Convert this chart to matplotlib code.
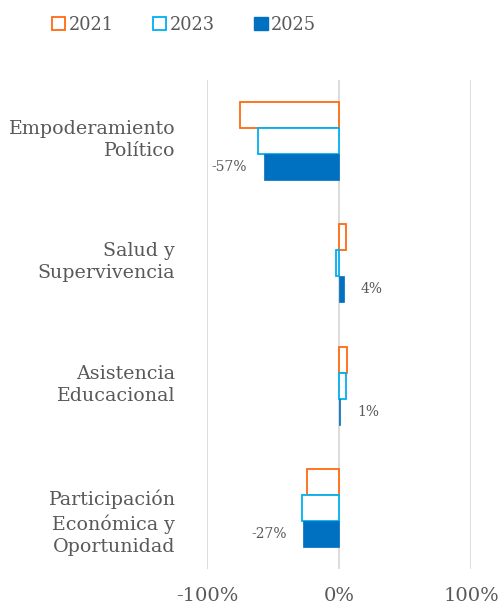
import matplotlib.pyplot as plt
from matplotlib.patches import Patch
from matplotlib.transforms import offset_copy
import numpy as np

# categories top to bottom
categories = ["Empoderamiento\nPolítico",
              "Salud y\nSupervivencia",
              "Asistencia\nEducacional",
              "Participación\nEconómica y\nOportunidad"]
years = ["2021", "2023", "2025"]
vals_2021 = [-0.75, 0.05, 0.06, -0.24]
vals_2023 = [-0.61, -0.02, 0.05, -0.28]
vals_2025 = [-0.57, 0.04, 0.01, -0.27]
labels_2025 = ["-57%", "4%", "1%", "-27%"]
xticks = [-1, 0, 1]
xtick_labels = ["-100%", "0%", "100%"]

orange = "#FF6A10"
light_blue = "#00B0F0"
dark_blue = "#0070C0"
grey_txt = "#595959"

plt.rcParams['font.family'] = ['DejaVu Serif']

fig = plt.figure(figsize=(5.02, 6.07), dpi=100)
ax = fig.add_axes([207/502, 1 - 569/607, 264/502, 489/607])

y = np.arange(len(categories))
h = 0.213

ax.barh(y - h, vals_2021, height=h, facecolor="white", edgecolor=orange, linewidth=1.3, zorder=3)
ax.barh(y, vals_2023, height=h, facecolor="white", edgecolor=light_blue, linewidth=1.3, zorder=3)
bars25 = ax.barh(y + h, vals_2025, height=h, color=dark_blue, edgecolor=dark_blue, linewidth=0.5, zorder=3)

for b, v, lab in zip(bars25, vals_2025, labels_2025):
    yc = b.get_y() + b.get_height() / 2
    off = 12 if v >= 0 else -12
    ax.annotate(lab, (v, yc), xytext=(off, 0), textcoords="offset points",
                ha="left" if v >= 0 else "right", va="center",
                fontsize=10, color=grey_txt)

ax.set_xlim(-1, 1)
ax.set_ylim(len(categories) - 0.5, -0.5)
ax.set_xticks(xticks)
ax.set_xticklabels(xtick_labels, fontsize=14, color=grey_txt)
ax.set_yticks(y)
ax.set_yticklabels([])

# category labels, drawn by hand so the 3-line one can sit a bit lower like the original
for i, cat in enumerate(categories):
    dy = 1 if cat.count("\n") == 1 else -15
    tr = offset_copy(ax.get_yaxis_transform(), fig=fig, x=-32, y=dy, units="dots")
    ax.text(0, i, cat, transform=tr, ha="right", va="center", multialignment="right",
            fontsize=13.7, color=grey_txt, linespacing=1.3)

ax.tick_params(axis="both", length=0)
ax.tick_params(axis="x", pad=13)
ax.grid(axis="x", color="#D9D9D9", linewidth=1.3, zorder=0)
for s in ax.spines.values():
    s.set_visible(False)

handles = [Patch(facecolor="white", edgecolor=orange, linewidth=1.3),
           Patch(facecolor="white", edgecolor=light_blue, linewidth=1.3),
           Patch(facecolor=dark_blue, edgecolor=dark_blue)]
leg = fig.legend(handles, years, loc="upper left", bbox_to_anchor=(0.072, 1.0),
                 ncol=3, frameon=False, fontsize=12.8, handlelength=0.75,
                 handleheight=0.75, handletextpad=0.2, columnspacing=2.2)
for t in leg.get_texts():
    t.set_color(grey_txt)

fig.savefig("out.png", dpi=100)
